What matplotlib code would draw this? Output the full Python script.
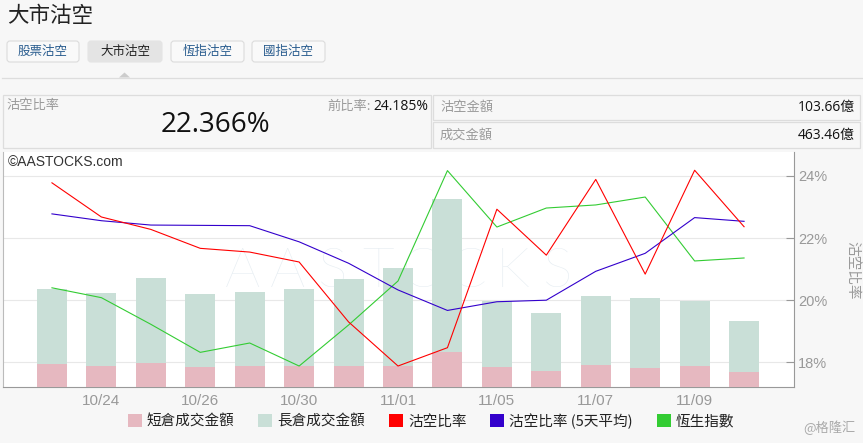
import matplotlib
matplotlib.use('Agg')
import matplotlib.pyplot as plt
import matplotlib.transforms as mtrans
from matplotlib.patches import FancyBboxPatch, Rectangle, Polygon, Patch
from matplotlib.lines import Line2D
from matplotlib.font_manager import FontProperties
import numpy as np

# ---------------- data ----------------
dates = ['10/23', '10/24', '10/25', '10/26', '10/29', '10/30', '10/31', '11/01',
         '11/02', '11/05', '11/06', '11/07', '11/08', '11/09', '11/12']
tick_dates = ['10/24', '10/26', '10/30', '11/01', '11/05', '11/07', '11/09']
short_amt = [164, 149, 170, 142, 144, 146, 147, 149, 244, 139, 111, 152, 130, 147, 103.66]
long_amt = [526, 509, 595, 513, 523, 540, 613, 686, 1076, 467, 408, 485, 495, 459, 359.8]
short_ratio = [23.78, 22.68, 22.28, 21.67, 21.55, 21.23, 19.30, 17.88, 18.47, 22.93,
               21.45, 23.89, 20.84, 24.185, 22.366]
ratio_5d = [22.78, 22.56, 22.42, 22.41, 22.40, 21.88, 21.19, 20.33, 19.67, 19.95,
            20.00, 20.93, 21.51, 22.66, 22.54]
hsi = [25346, 25250, 24991, 24718, 24809, 24585, 24984, 25412, 26486, 25937,
       26122, 26152, 26229, 25607, 25636]
pct_ticks = [18, 20, 22, 24]
tabs = ['股票沽空', '大市沽空', '恆指沽空', '國指沽空']
legend_labels = ['短倉成交金額', '長倉成交金額', '沽空比率', '沽空比率 (5天平均)', '恆生指數']

C_SHORT = '#e6b8c0'
C_LONG = '#c9dfd7'
C_RED = '#ff0000'
C_BLUE = '#3300cc'
C_GREEN = '#33cc33'

plt.rcParams['font.family'] = ['Noto Sans CJK TC', 'DejaVu Sans']
NUMF = ['Open Sans', 'Noto Sans CJK TC', 'DejaVu Sans']
ARIAL = ['Liberation Sans', 'DejaVu Sans']

W, H = 863, 443
fig = plt.figure(figsize=(W / 100, H / 100), dpi=100, facecolor='#f7f7f7')
# pixel transform (origin top-left)
px = mtrans.Affine2D().scale(1 / 100, -1 / 100).translate(0, H / 100) + fig.dpi_scale_trans

# ---------------- header ----------------
fig.text(7, 16, '大市沽空', transform=px, fontsize=15.5, color='#222', va='center', ha='left')
tab_x = [(7, 79), (88, 162), (171, 244), (252, 325)]
for (x0, x1), lab in zip(tab_x, tabs):
    active = lab == '大市沽空'
    box = FancyBboxPatch((x0, 41), x1 - x0, 21, boxstyle='round,pad=0,rounding_size=3',
                         transform=px, fc='#e4e4e4' if active else '#f9f9f9',
                         ec='#e4e4e4' if active else '#dcdcdc', lw=0.8)
    fig.add_artist(box)
    fig.text((x0 + x1) / 2, 51.5, lab, transform=px, fontsize=9, ha='center', va='center',
             color='#222' if active else '#2a5d8f')
fig.add_artist(Line2D([2, 863], [77.5, 77.5], transform=px, color='#dddddd', lw=0.9))
fig.add_artist(Polygon([[119, 77.5], [124.5, 72.5], [130, 77.5]], closed=True, transform=px,
                       fc='#cccccc', ec='none'))

# info boxes
fig.add_artist(Rectangle((3, 94.5), 428, 53, transform=px, fc='#f7f7f7', ec='#dddddd', lw=0.9))
fig.add_artist(Rectangle((433, 94.5), 427, 25.5, transform=px, fc='#f7f7f7', ec='#dddddd', lw=0.9))
fig.add_artist(Rectangle((433, 122), 427, 25.5, transform=px, fc='#f7f7f7', ec='#dddddd', lw=0.9))
fig.text(6, 106, '沽空比率', transform=px, fontsize=9.5, color='#9a9a9a', va='center', ha='left')
fig.text(371, 106, '前比率:', transform=px, fontsize=9.5, color='#9a9a9a', va='center', ha='right')
fig.text(428, 106, f'{short_ratio[-2]:.3f}%', transform=px, fontsize=10, color='#111',
         va='center', ha='right', family=NUMF)
fig.text(215.5, 125, f'{short_ratio[-1]:.3f}%', transform=px, fontsize=20, color='#111',
         va='center', ha='center', family=NUMF)
fig.text(440, 107, '沽空金額', transform=px, fontsize=9.5, color='#9a9a9a', va='center', ha='left')
fig.text(855, 107, f'{short_amt[-1]:.2f}億', transform=px, fontsize=10, color='#111',
         va='center', ha='right', family=NUMF)
fig.text(440, 135.5, '成交金額', transform=px, fontsize=9.5, color='#9a9a9a', va='center', ha='left')
fig.text(855, 135.5, f'{short_amt[-1] + long_amt[-1]:.2f}億', transform=px, fontsize=10,
         color='#111', va='center', ha='right', family=NUMF)

# ---------------- chart ----------------
x = np.arange(len(dates))
ax_bg = fig.add_axes([3 / W, 1 - 387 / H, (794 - 3) / W, (387 - 152) / H])
ax_bg.set_facecolor('white')
ax_bg.set_xlim(-0.99, 15.01)
ax_bg.set_ylim(17.204, 24.773)
ax_bg.grid(axis='y', color='#e8e8e8', lw=0.8)
ax_bg.set_axisbelow(True)
ax_bg.set_xticks([dates.index(d) for d in tick_dates], tick_dates)
ax_bg.tick_params(axis='x', length=0, labelcolor='#999999', labelsize=11, pad=5)
for lab in ax_bg.get_xticklabels():
    lab.set_family(ARIAL)
ax_bg.spines['top'].set_visible(False)
ax_bg.spines['left'].set_color('#bbbbbb')
ax_bg.spines['right'].set_color('#999999')
ax_bg.spines['bottom'].set_color('#999999')
for s in ax_bg.spines.values():
    s.set_linewidth(0.8)

# watermark
for i, ch in enumerate('AASTOCKS'):
    ax_bg.text(243 + 44.9 * i, 272, ch, transform=px, fontsize=40, color='#e6edf2',
               ha='center', va='center', family=['Lato', 'DejaVu Sans'], fontweight='light',
               zorder=0.2)
ax_bg.text(8, 162, '©AASTOCKS.com', transform=px, fontsize=10, color='#333333',
           ha='left', va='center', family=ARIAL)


def hide(a):
    a.set_yticks([])
    for s in a.spines.values():
        s.set_visible(False)
    a.patch.set_visible(False)


ax_bar = ax_bg.twinx()
hide(ax_bar)
ax_bar.set_ylim(0, 1650)
ax_bar.bar(x, short_amt, width=0.607, color=C_SHORT, lw=0)
ax_bar.bar(x, long_amt, bottom=short_amt, width=0.607, color=C_LONG, lw=0)

ax_hsi = ax_bg.twinx()
hide(ax_hsi)
ax_hsi.set_ylim(24381, 26667)
ax_hsi.plot(x, hsi, color=C_GREEN, lw=0.8)

ax_line = ax_bg.twinx()
hide(ax_line)
ax_line.set_ylim(17.204, 24.773)
ax_line.plot(x, ratio_5d, color=C_BLUE, lw=0.8)
ax_line.plot(x, short_ratio, color=C_RED, lw=0.8)

# percent axis on the right (after twinx, which resets it to the left)
ax_bg.yaxis.tick_right()
ax_bg.yaxis.set_label_position('right')
ax_bg.set_yticks(pct_ticks, [f'{t}%' for t in pct_ticks])
ax_bg.tick_params(axis='y', which='both', left=False, labelleft=False, right=True,
                  labelright=True, direction='in', length=6, width=0.8, color='#999999',
                  labelcolor='#999999', labelsize=10.5, pad=3)
for lab in ax_bg.get_yticklabels():
    lab.set_family(ARIAL)

fig.text(852, 270, '沽空比率', transform=px, fontsize=10.5, color='#9a9a9a',
         rotation=270, ha='center', va='center')

# legend
handles = [Patch(fc=c, ec='none') for c in [C_SHORT, C_LONG, C_RED, C_BLUE, C_GREEN]]
fig.legend(handles, legend_labels, loc='center', bbox_to_anchor=(431 / W, 1 - 421 / H),
           ncol=5, frameon=False, prop=FontProperties(family=['Noto Sans CJK TC'], size=10.5),
           handlelength=0.96, handleheight=0.96, handletextpad=0.34, columnspacing=1.64,
           labelcolor='#222222', borderaxespad=0, borderpad=0)

fig.text(856, 428, '@格隆汇', transform=px, fontsize=9.5, color='#aaaaaa', ha='right', va='center')

fig.savefig('out.png', dpi=100, facecolor=fig.get_facecolor())
